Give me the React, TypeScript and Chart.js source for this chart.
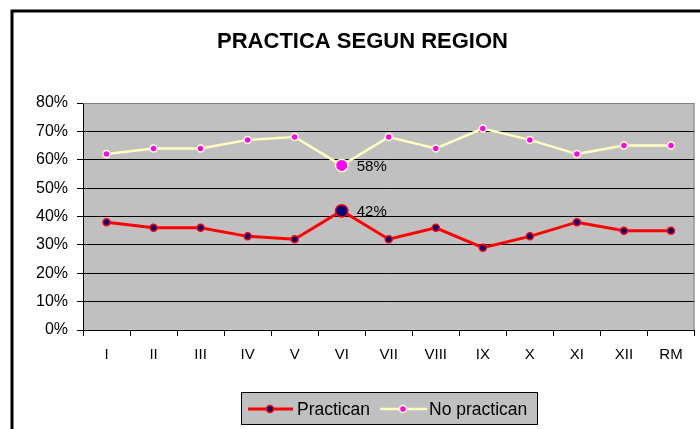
import React, { useEffect, useRef } from "react";
import { Chart, registerables } from "chart.js";

Chart.register(...registerables);

const categories = ["I", "II", "III", "IV", "V", "VI", "VII", "VIII", "IX", "X", "XI", "XII", "RM"];
const practican = [38, 36, 36, 33, 32, 42, 32, 36, 29, 33, 38, 35, 35];
const noPractican = [62, 64, 64, 67, 68, 58, 68, 64, 71, 67, 62, 65, 65];
const yTicks = [0, 10, 20, 30, 40, 50, 60, 70, 80];
const titleText = "PRACTICA SEGUN REGION";
const seriesNames = ["Practican", "No practican"];
const highlightIndex = 5;

const FONT = '"Liberation Sans", Arial, sans-serif';

const framePlugin = {
  id: "framePlugin",
  beforeDraw(chart: any) {
    const { ctx, chartArea } = chart;
    ctx.save();
    ctx.fillStyle = "#ffffff";
    ctx.fillRect(0, 0, chart.width, chart.height);
    ctx.strokeStyle = "#000000";
    ctx.lineWidth = 3;
    ctx.beginPath();
    ctx.moveTo(12, chart.height + 2);
    ctx.lineTo(12, 11);
    ctx.lineTo(chart.width + 2, 11);
    ctx.stroke();
    ctx.fillStyle = "#c0c0c0";
    ctx.fillRect(chartArea.left, chartArea.top, chartArea.right - chartArea.left, chartArea.bottom - chartArea.top);
    ctx.restore();
  },
  beforeDatasetsDraw(chart: any) {
    const { ctx, chartArea } = chart;
    ctx.save();
    ctx.strokeStyle = "#808080";
    ctx.lineWidth = 1;
    ctx.beginPath();
    ctx.moveTo(chartArea.left, chartArea.top + 0.5);
    ctx.lineTo(chartArea.right - 0.5, chartArea.top + 0.5);
    ctx.lineTo(chartArea.right - 0.5, chartArea.bottom);
    ctx.stroke();
    ctx.restore();
  },
  afterDraw(chart: any) {
    const { ctx } = chart;
    ctx.save();
    // Title
    ctx.fillStyle = "#000000";
    ctx.font = `bold 22px ${FONT}`;
    ctx.textAlign = "center";
    ctx.textBaseline = "alphabetic";
    ctx.fillText(titleText, 362.5, 48);

    // Data labels for highlighted points
    ctx.font = `15px ${FONT}`;
    ctx.textAlign = "left";
    chart.data.datasets.forEach((ds: any, di: number) => {
      const meta = chart.getDatasetMeta(di);
      const el = meta.data[highlightIndex];
      if (!el) return;
      ctx.fillText(`${ds.data[highlightIndex]}%`, el.x + 15, el.y + 5.5);
    });

    // Legend
    const lx = 241.5, ly = 392.5, lw = 296, lh = 32;
    ctx.fillStyle = "#c0c0c0";
    ctx.fillRect(lx, ly, lw, lh);
    ctx.strokeStyle = "#000000";
    ctx.lineWidth = 1;
    ctx.strokeRect(lx, ly, lw, lh);
    const cy = 409;
    const items = [
      { x0: 248, x1: 293, dot: 270, text: 297, line: "#ff0000", lwid: 3, fill: "#000080", border: "#ff0000" },
      { x0: 380, x1: 427, dot: 403, text: 429, line: "#ffffc0", lwid: 2.5, fill: "#ff00ff", border: "#ffffc0" },
    ];
    items.forEach((it, i) => {
      ctx.strokeStyle = it.line;
      ctx.lineWidth = it.lwid;
      ctx.beginPath();
      ctx.moveTo(it.x0, cy);
      ctx.lineTo(it.x1, cy);
      ctx.stroke();
      ctx.beginPath();
      ctx.arc(it.dot, cy, 3.5, 0, Math.PI * 2);
      ctx.fillStyle = it.fill;
      ctx.fill();
      ctx.lineWidth = 1.5;
      ctx.strokeStyle = it.border;
      ctx.stroke();
      ctx.fillStyle = "#000000";
      ctx.font = `17.5px ${FONT}`;
      ctx.textAlign = "left";
      ctx.textBaseline = "alphabetic";
      ctx.fillText(seriesNames[i], it.text, 415);
    });
    ctx.restore();
  },
};

export default function App() {
  const canvasRef = useRef<HTMLCanvasElement | null>(null);

  useEffect(() => {
    if (!canvasRef.current) return;
    const chart = new Chart(canvasRef.current, {
      type: "line",
      data: {
        labels: categories,
        datasets: [
          {
            label: seriesNames[0],
            data: practican,
            borderColor: "#ff0000",
            borderWidth: 3,
            pointBackgroundColor: "#000080",
            pointBorderColor: "#ff0000",
            pointBorderWidth: 1.5,
            pointRadius: (c: any) => (c.dataIndex === highlightIndex ? 6.2 : 3.5),
            tension: 0,
          },
          {
            label: seriesNames[1],
            data: noPractican,
            borderColor: "#ffffc0",
            borderWidth: 2.5,
            pointBackgroundColor: "#ff00ff",
            pointBorderColor: "#ffffc0",
            pointBorderWidth: 1.5,
            pointRadius: (c: any) => (c.dataIndex === highlightIndex ? 6.2 : 3.5),
            tension: 0,
          },
        ],
      },
      options: {
        responsive: false,
        animation: false,
        devicePixelRatio: 1,
        layout: { padding: { left: 0, right: 5, top: 103, bottom: 0 } },
        plugins: {
          legend: { display: false },
          title: { display: false },
          tooltip: { enabled: false },
        },
        scales: {
          x: {
            offset: true,
            grid: {
              offset: true,
              drawOnChartArea: false,
              drawTicks: true,
              tickLength: 6,
              color: "#000000",
            },
            border: { display: true, color: "#000000", width: 1 },
            ticks: {
              color: "#000000",
              font: { family: FONT, size: 15 },
              padding: 10,
              maxRotation: 0,
              autoSkip: false,
            },
            afterFit: (s: any) => {
              s.height = 99;
            },
          },
          y: {
            min: 0,
            max: 80,
            afterBuildTicks: (s: any) => {
              s.ticks = yTicks.map((v) => ({ value: v }));
            },
            grid: {
              color: (c: any) => (c.tick && c.tick.value === 80 ? "#808080" : "#000000"),
              tickColor: "#000000",
              tickLength: 6,
              lineWidth: 1,
            },
            border: { display: true, color: "#000000", width: 1 },
            ticks: {
              color: "#000000",
              font: { family: FONT, size: 16 },
              padding: 9,
              callback: (v: any) => `${v}%`,
            },
            afterFit: (s: any) => {
              s.width = 83;
            },
          },
        },
      },
      plugins: [framePlugin],
    });
    return () => chart.destroy();
  }, []);

  return (
    <div style={{ position: "fixed", left: 0, top: 0, width: 700, height: 429, background: "#fff" }}>
      <canvas ref={canvasRef} width={700} height={429} style={{ display: "block" }} />
    </div>
  );
}
